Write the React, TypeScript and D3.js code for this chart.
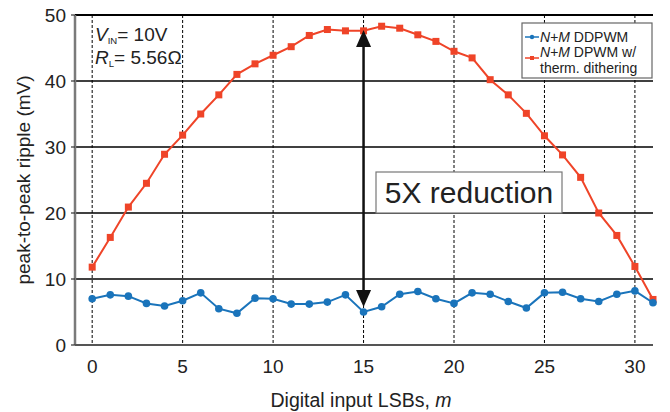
import React from "react";
import * as d3 from "d3";

const lsb: number[] = d3.range(0, 32);
const ddpwm: number[] = [
  7.0, 7.6, 7.4, 6.3, 5.9, 6.7, 7.9, 5.5, 4.8, 7.1, 7.0, 6.2, 6.2, 6.5, 7.6, 5.0,
  5.8, 7.7, 8.1, 7.0, 6.3, 7.9, 7.7, 6.6, 5.6, 7.9, 8.0, 7.0, 6.6, 7.7, 8.2, 6.4,
];
const dithered: number[] = [
  11.8, 16.3, 20.9, 24.5, 28.9, 31.8, 35.0, 37.9, 41.0, 42.6, 43.9, 45.2, 46.9, 47.8, 47.6, 47.6,
  48.3, 48.0, 47.0, 46.0, 44.5, 43.5, 40.2, 37.9, 35.1, 31.7, 28.8, 25.4, 20.0, 16.6, 11.9, 6.9,
];
const xTicks: number[] = [0, 5, 10, 15, 20, 25, 30];
const yTicks: number[] = [0, 10, 20, 30, 40, 50];

const W = 670;
const H = 412;
const left = 75;
const right = 653;
const top = 15;
const bottom = 345;
const RED = "#ef4428";
const BLUE = "#1a74bb";
const FONT = "'Liberation Sans', Arial, Helvetica, sans-serif";

export default function App() {
  const x = d3.scaleLinear().domain([-0.95, 31]).range([left, right]);
  const y = d3.scaleLinear().domain([0, 50]).range([bottom, top]);
  const line = d3
    .line<number>()
    .x((_, i) => x(lsb[i]))
    .y((d) => y(d));

  const arrowX = x(15);
  const arrowTop = 30;
  const arrowBot = 307;

  return (
    <svg
      width={W}
      height={H}
      style={{ position: "absolute", left: 0, top: 0, background: "#fff" }}
      fontFamily={FONT}
    >
      <defs>
        <clipPath id="plotClip">
          <rect x={left} y={top - 5} width={right - left + 6} height={bottom - top + 10} />
        </clipPath>
      </defs>

      {/* vertical dashed grid */}
      {xTicks.map((t) => (
        <line
          key={"vx" + t}
          x1={x(t)}
          x2={x(t)}
          y1={top}
          y2={bottom}
          stroke="#000"
          strokeWidth={1}
          strokeDasharray="3,2"
        />
      ))}
      {/* horizontal solid grid */}
      {yTicks
        .filter((t) => t > 0)
        .map((t) => (
          <line
            key={"hy" + t}
            x1={left}
            x2={right}
            y1={y(t)}
            y2={y(t)}
            stroke="#000"
            strokeWidth={t === 50 ? 2 : 1.6}
          />
        ))}

      {/* axes */}
      <line x1={left} x2={left} y1={top} y2={bottom} stroke="#7a7a7a" strokeWidth={2.5} />
      <line x1={left} x2={right} y1={bottom} y2={bottom} stroke="#555" strokeWidth={2} />
      {yTicks.map((t) => (
        <line key={"yt" + t} x1={left - 4} x2={left} y1={y(t)} y2={y(t)} stroke="#333" strokeWidth={1.2} />
      ))}

      {/* tick labels */}
      {yTicks.map((t) => (
        <text key={"yl" + t} x={66} y={y(t) + 7} textAnchor="end" fontSize={19} fill="#222">
          {t}
        </text>
      ))}
      {xTicks.map((t) => (
        <text key={"xl" + t} x={x(t)} y={373} textAnchor="middle" fontSize={19} fill="#222">
          {t}
        </text>
      ))}

      {/* axis titles */}
      <text
        transform={`translate(30,${(top + bottom) / 2}) rotate(-90)`}
        textAnchor="middle"
        fontSize={19}
        fill="#222"
      >
        peak-to-peak ripple (mV)
      </text>
      <text x={(left + right) / 2 - 3} y={407} textAnchor="middle" fontSize={19.5} fill="#222">
        Digital input LSBs, <tspan fontStyle="italic">m</tspan>
      </text>

      {/* condition annotation */}
      <text x={95} y={41} fontSize={19} fill="#222">
        <tspan fontStyle="italic">V</tspan>
        <tspan fontSize={9.5} dy={3}>IN</tspan>
        <tspan dy={-3}>= 10V</tspan>
      </text>
      <text x={95} y={64} fontSize={19} fill="#222">
        <tspan fontStyle="italic">R</tspan>
        <tspan fontSize={9.5} dy={3}>L</tspan>
        <tspan dy={-3}>= 5.56Ω</tspan>
      </text>

      {/* series */}
      <g clipPath="url(#plotClip)">
        <path d={line(dithered) ?? ""} fill="none" stroke={RED} strokeWidth={2} />
        {dithered.map((v, i) => (
          <rect key={"r" + i} x={x(lsb[i]) - 3.5} y={y(v) - 3.5} width={7} height={7} fill={RED} />
        ))}
        <path d={line(ddpwm) ?? ""} fill="none" stroke={BLUE} strokeWidth={2} />
        {ddpwm.map((v, i) => (
          <circle key={"b" + i} cx={x(lsb[i])} cy={y(v)} r={3.8} fill={BLUE} />
        ))}
      </g>

      {/* reduction arrow */}
      <line x1={arrowX} x2={arrowX} y1={arrowTop + 10} y2={arrowBot - 10} stroke="#111" strokeWidth={2.5} />
      <path
        d={`M${arrowX},${arrowTop} L${arrowX - 7.5},${arrowTop + 17} L${arrowX + 7.5},${arrowTop + 17} Z`}
        fill="#111"
      />
      <path
        d={`M${arrowX},${arrowBot} L${arrowX - 7.5},${arrowBot - 17} L${arrowX + 7.5},${arrowBot - 17} Z`}
        fill="#111"
      />
      <rect x={376} y={172} width={186} height={41} fill="#fff" stroke="#777" strokeWidth={1.2} />
      <text x={469} y={203} textAnchor="middle" fontSize={30} fill="#222">
        5X reduction
      </text>

      {/* legend */}
      <rect x={522} y={23} width={130} height={55} fill="#fff" stroke="#666" strokeWidth={1.2} />
      <line x1={525} x2={539} y1={37} y2={37} stroke={BLUE} strokeWidth={1.5} />
      <circle cx={532} cy={37} r={2.2} fill={BLUE} />
      <text x={540} y={41.5} fontSize={14} fill="#222">
        <tspan fontStyle="italic">N+M</tspan> DDPWM
      </text>
      <line x1={525} x2={539} y1={58} y2={58} stroke={RED} strokeWidth={1.5} />
      <rect x={530} y={56} width={4} height={4} fill={RED} />
      <text x={540} y={57} fontSize={14} fill="#222">
        <tspan fontStyle="italic">N+M</tspan> DPWM w/
      </text>
      <text x={540} y={73} fontSize={14} fill="#222">
        therm. dithering
      </text>
    </svg>
  );
}
